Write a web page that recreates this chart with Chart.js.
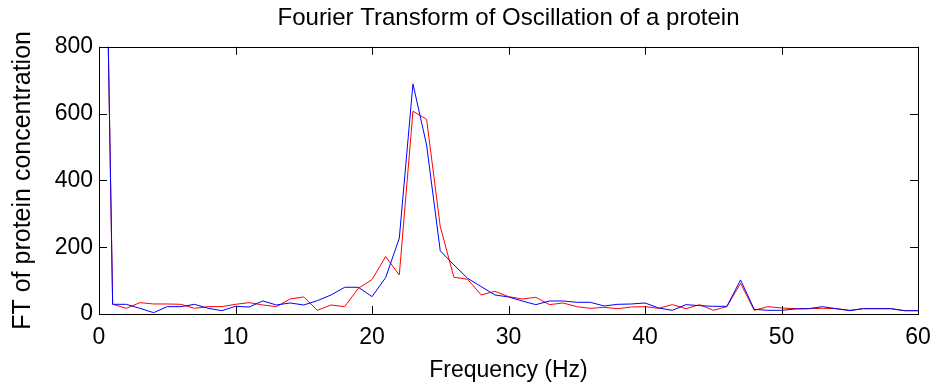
<!DOCTYPE html>
<html>
<head>
<meta charset="utf-8">
<script src="https://cdn.jsdelivr.net/npm/chart.js@4.4.1/dist/chart.umd.min.js"></script>
<style>
  html, body { margin: 0; padding: 0; background: #fff; }
  #wrap { width: 947px; height: 384px; }
</style>
</head>
<body>
<div id="wrap"><canvas id="chart" width="947" height="384"></canvas></div>
<script>
// frequency bins (Hz)
const freqs = [0, 1, 2, 3, 4, 5, 6, 7, 8, 9, 10, 11, 12, 13, 14, 15, 16, 17, 18, 19, 20,
  21, 22, 23, 24, 25, 26, 27, 28, 29, 30, 31, 32, 33, 34, 35, 36, 37, 38, 39, 40,
  41, 42, 43, 44, 45, 46, 47, 48, 49, 50, 51, 52, 53, 54, 55, 56, 57, 58, 59, 60];

// blue trace
const blueFT = [2450, 29, 29, 17, 4, 22, 22, 29, 17, 10, 23, 21, 39, 27, 33, 27, 40, 57, 80, 80, 52,
  109, 227, 689, 506, 189, 147, 107, 82, 57, 51, 39, 28, 39, 39, 35, 35, 24, 29, 30, 33,
  18, 11, 28, 25, 23, 23, 102, 14, 11, 11, 15, 16, 22, 16, 10, 16, 16, 16, 10, 10];

// red trace
const redFT = [2450, 29, 17, 34, 30, 30, 29, 17, 22, 22, 29, 34, 27, 22, 45, 51, 11, 27, 22, 77, 103,
  172, 117, 607, 583, 262, 110, 104, 57, 68, 52, 45, 50, 28, 33, 22, 17, 20, 16, 21, 22,
  17, 28, 16, 28, 11, 22, 92, 11, 22, 18, 16, 16, 17, 16, 11, 16, 16, 16, 10, 10];

const xTicks = [0, 10, 20, 30, 40, 50, 60];
const yTicks = [0, 200, 400, 600, 800];

const FONT = "'Liberation Sans', Arial, sans-serif";

function toPoints(ys) {
  return freqs.map((f, i) => ({ x: f, y: ys[i] }));
}

// matlab style box with inward ticks on all four sides
const boxPlugin = {
  id: 'matlabBox',
  afterDatasetsDraw(chart) {
    const { ctx, chartArea: a, scales } = chart;
    const len = 8;
    ctx.save();
    ctx.strokeStyle = '#000';
    ctx.lineWidth = 1;
    ctx.beginPath();
    xTicks.forEach(v => {
      const px = Math.round(scales.x.getPixelForValue(v)) + 0.5;
      ctx.moveTo(px, a.bottom); ctx.lineTo(px, a.bottom - len);
      ctx.moveTo(px, a.top); ctx.lineTo(px, a.top + len);
    });
    yTicks.forEach(v => {
      const py = Math.round(scales.y.getPixelForValue(v)) + 0.5;
      ctx.moveTo(a.left, py); ctx.lineTo(a.left + len, py);
      ctx.moveTo(a.right, py); ctx.lineTo(a.right - len, py);
    });
    ctx.stroke();
    ctx.strokeRect(Math.round(a.left) + 0.5, Math.round(a.top) + 0.5,
      Math.round(a.right - a.left), Math.round(a.bottom - a.top));
    ctx.restore();
  }
};

new Chart(document.getElementById('chart'), {
  type: 'scatter',
  data: {
    datasets: [
      {
        label: 'blue',
        data: toPoints(blueFT),
        showLine: true,
        borderColor: '#0000ff',
        borderWidth: 1,
        pointRadius: 0,
        tension: 0
      },
      {
        label: 'red',
        data: toPoints(redFT),
        showLine: true,
        borderColor: '#ff0000',
        borderWidth: 1,
        pointRadius: 0,
        tension: 0
      }
    ]
  },
  options: {
    responsive: false,
    animation: false,
    layout: { padding: { left: 0, right: 29, top: 0, bottom: 0 } },
    plugins: {
      legend: { display: false },
      tooltip: { enabled: false },
      title: {
        display: true,
        fullSize: false,
        text: 'Fourier Transform of Oscillation of a protein',
        color: '#000',
        font: { family: FONT, size: 24, weight: 'normal', lineHeight: 1.2 },
        padding: { top: 4, bottom: 14 }
      }
    },
    scales: {
      x: {
        type: 'linear',
        min: 0,
        max: 60,
        afterFit(scale) { scale.height = 70; },
        afterBuildTicks(scale) { scale.ticks = xTicks.map(v => ({ value: v })); },
        grid: { display: false, drawTicks: false },
        border: { display: false },
        ticks: { color: '#000', padding: 10, maxRotation: 0, font: { family: FONT, size: 23 } },
        title: {
          display: true,
          text: 'Frequency (Hz)',
          color: '#000',
          font: { family: FONT, size: 23 },
          padding: { top: 0, bottom: 0 }
        }
      },
      y: {
        type: 'linear',
        min: 0,
        max: 800,
        afterFit(scale) { scale.width = 99; },
        afterBuildTicks(scale) { scale.ticks = yTicks.map(v => ({ value: v })); },
        grid: { display: false, drawTicks: false },
        border: { display: false },
        ticks: { color: '#000', padding: 6, font: { family: FONT, size: 23 } },
        title: {
          display: true,
          text: 'FT of protein concentration',
          color: '#000',
          font: { family: FONT, size: 25 },
          padding: { top: 8, bottom: 0 }
        }
      }
    }
  },
  plugins: [boxPlugin]
});
</script>
</body>
</html>
